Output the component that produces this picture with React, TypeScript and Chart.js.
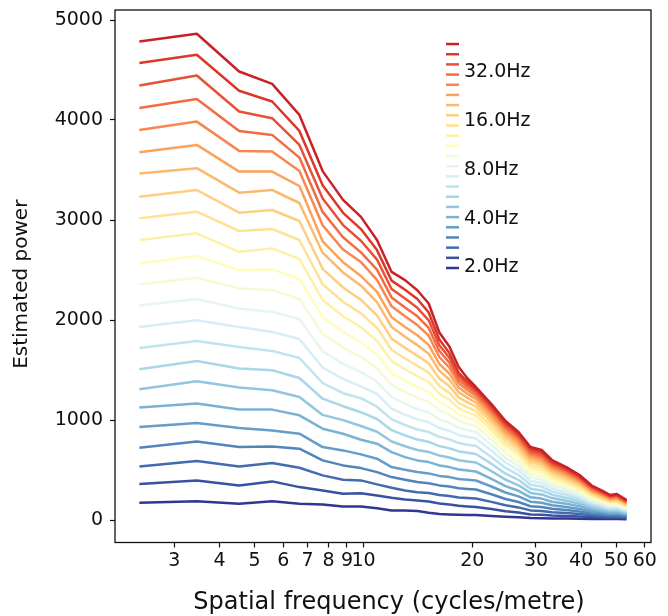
import React, { useEffect, useRef } from 'react';
import { Chart, registerables } from 'chart.js';

Chart.register(...registerables);

// Spatial frequency (cycles/metre) sample points
const spatialFreq = [2.40, 3.46, 4.53, 5.59, 6.65, 7.71, 8.78, 9.84, 10.90, 11.96, 13.03, 14.09, 15.15, 16.21, 17.28, 18.34, 19.40, 20.46, 22.59, 24.71, 26.84, 28.96, 31.09, 33.21, 36.40, 39.59, 42.78, 45.96, 48.09, 50.21, 53.40];

// Temporal frequency of each curve (Hz), lowest to highest
const temporalFreq = [2.00, 2.31, 2.67, 3.08, 3.56, 4.12, 4.76, 5.50, 6.35, 7.34, 8.48, 9.79, 11.31, 13.07, 15.10, 17.45, 20.16, 23.29, 26.91, 31.09, 35.92, 41.50, 47.95];

// Legend labels (Hz)
const legendLabelsHz = [2, 4, 8, 16, 32];

// Axis titles
const xTitle = 'Spatial frequency (cycles/metre)';
const yTitle = 'Estimated power';

// Estimated power per curve
const p00 = [172, 188, 162, 188, 162, 155, 135, 135, 118, 95, 95, 90, 72, 60, 55, 52, 51, 50, 41, 33, 27, 20, 18, 16, 15, 13, 11, 10, 9, 9, 8];
const p01 = [359, 396, 346, 386, 329, 295, 262, 268, 245, 222, 205, 195, 185, 166, 156, 142, 135, 130, 109, 88, 74, 56, 52, 45, 41, 35, 29, 25, 22, 23, 19];
const p02 = [536, 589, 536, 569, 523, 446, 403, 396, 356, 323, 295, 278, 269, 250, 240, 226, 220, 215, 181, 147, 126, 96, 90, 78, 70, 60, 47, 41, 36, 37, 30];
const p03 = [723, 786, 729, 736, 713, 596, 546, 519, 479, 429, 403, 379, 368, 346, 335, 318, 311, 305, 258, 210, 180, 138, 130, 112, 99, 85, 66, 56, 49, 51, 40];
const p04 = [929, 970, 919, 896, 863, 729, 696, 656, 613, 529, 503, 479, 466, 441, 429, 410, 402, 395, 335, 275, 236, 183, 172, 148, 131, 111, 85, 72, 62, 65, 50];
const p05 = [1124, 1164, 1104, 1104, 1047, 913, 863, 803, 763, 679, 629, 596, 579, 546, 529, 505, 494, 485, 412, 339, 292, 227, 214, 183, 162, 137, 105, 88, 75, 78, 60];
const p06 = [1307, 1387, 1324, 1297, 1230, 1051, 999, 940, 882, 785, 737, 700, 681, 644, 625, 597, 585, 575, 489, 403, 347, 271, 256, 219, 193, 163, 124, 103, 89, 92, 70];
const p07 = [1507, 1591, 1514, 1497, 1420, 1213, 1138, 1078, 1010, 898, 846, 804, 782, 739, 718, 686, 672, 660, 562, 463, 400, 313, 296, 253, 223, 188, 143, 119, 102, 106, 80];
const p08 = [1721, 1791, 1731, 1691, 1620, 1370, 1268, 1218, 1133, 1006, 950, 905, 880, 831, 806, 770, 753, 740, 630, 521, 450, 353, 334, 285, 251, 212, 161, 134, 114, 119, 90];
const p09 = [1931, 1998, 1931, 1881, 1810, 1524, 1411, 1336, 1260, 1114, 1053, 1006, 977, 920, 891, 849, 830, 815, 695, 575, 497, 391, 370, 316, 278, 235, 178, 149, 127, 132, 100];
const p10 = [2145, 2209, 2115, 2081, 2010, 1686, 1561, 1478, 1384, 1228, 1161, 1109, 1075, 1006, 972, 921, 898, 880, 751, 623, 540, 427, 404, 345, 304, 257, 195, 163, 139, 145, 110];
const p11 = [2356, 2422, 2316, 2299, 2210, 1862, 1724, 1632, 1517, 1352, 1281, 1223, 1181, 1096, 1053, 991, 963, 940, 804, 668, 580, 460, 436, 373, 328, 277, 211, 176, 151, 157, 119];
const p12 = [2566, 2639, 2499, 2506, 2410, 2030, 1880, 1779, 1654, 1466, 1393, 1328, 1278, 1178, 1128, 1055, 1022, 995, 852, 710, 618, 492, 467, 399, 352, 297, 226, 189, 162, 169, 128];
const p13 = [2800, 2867, 2682, 2716, 2610, 2200, 2037, 1928, 1793, 1589, 1507, 1439, 1380, 1262, 1203, 1116, 1077, 1045, 897, 749, 654, 523, 497, 425, 375, 317, 241, 202, 173, 180, 137];
const p14 = [3017, 3083, 2890, 2910, 2800, 2357, 2183, 2066, 1921, 1702, 1615, 1542, 1474, 1339, 1271, 1171, 1126, 1090, 937, 785, 687, 552, 525, 449, 396, 335, 255, 213, 183, 191, 145];
const p15 = [3233, 3300, 3073, 3100, 2990, 2511, 2325, 2201, 2046, 1814, 1721, 1643, 1567, 1414, 1338, 1226, 1176, 1135, 978, 820, 719, 580, 552, 472, 416, 352, 269, 225, 193, 201, 153];
const p16 = [3464, 3518, 3273, 3300, 3170, 2673, 2475, 2343, 2178, 1931, 1832, 1749, 1663, 1491, 1405, 1278, 1221, 1175, 1014, 852, 748, 606, 577, 494, 436, 369, 282, 236, 203, 211, 161];
const p17 = [3678, 3751, 3484, 3484, 3340, 2787, 2578, 2439, 2282, 2028, 1930, 1847, 1751, 1560, 1465, 1325, 1261, 1210, 1045, 881, 774, 629, 600, 514, 453, 384, 293, 246, 211, 220, 168];
const p18 = [3901, 3984, 3691, 3684, 3490, 2947, 2704, 2579, 2402, 2137, 2037, 1949, 1843, 1630, 1524, 1368, 1297, 1240, 1073, 906, 799, 652, 622, 533, 470, 398, 305, 255, 220, 229, 175];
const p19 = [4119, 4209, 3891, 3851, 3624, 3081, 2827, 2676, 2503, 2226, 2126, 2037, 1921, 1690, 1574, 1404, 1327, 1265, 1097, 929, 821, 673, 643, 551, 486, 412, 316, 265, 228, 237, 182];
const p20 = [4345, 4445, 4085, 4018, 3751, 3214, 2949, 2793, 2604, 2310, 2214, 2122, 1997, 1748, 1623, 1440, 1357, 1290, 1121, 951, 842, 693, 663, 568, 501, 425, 326, 273, 235, 245, 188];
const p21 = [4569, 4653, 4292, 4185, 3891, 3348, 3072, 2909, 2699, 2394, 2302, 2210, 2075, 1805, 1670, 1472, 1382, 1310, 1140, 971, 862, 712, 682, 584, 516, 438, 336, 282, 243, 253, 194];
const p22 = [4786, 4863, 4485, 4361, 4051, 3489, 3201, 3031, 2800, 2481, 2399, 2298, 2165, 1875, 1735, 1530, 1415, 1330, 1160, 990, 880, 730, 700, 600, 530, 450, 345, 290, 250, 260, 200];

const powerSeries = [p00, p01, p02, p03, p04, p05, p06, p07, p08, p09, p10, p11, p12, p13, p14, p15, p16, p17, p18, p19, p20, p21, p22];

const xTickValues = [3, 4, 5, 6, 7, 8, 9, 10, 20, 30, 40, 50, 60];
const yTickValues = [0, 1000, 2000, 3000, 4000, 5000];

// RdYlBu reversed (blue -> red)
const RDYLBU_R = ['#313695', '#4575b4', '#74add1', '#abd9e9', '#e0f3f8', '#ffffbf', '#fee090', '#fdae61', '#f46d43', '#d73027', '#a50026'];

function hexToRgb(h: string) {
  return [parseInt(h.slice(1, 3), 16), parseInt(h.slice(3, 5), 16), parseInt(h.slice(5, 7), 16)];
}
function cmap(t: number) {
  const s = Math.max(0, Math.min(1, t)) * 10;
  const k = Math.min(9, Math.floor(s));
  const f = s - k;
  const a = hexToRgb(RDYLBU_R[k]);
  const b = hexToRgb(RDYLBU_R[k + 1]);
  const c = a.map((v, i) => Math.round(v + (b[i] - v) * f));
  return `rgb(${c[0]},${c[1]},${c[2]})`;
}

const FONT = "'DejaVu Sans', 'Liberation Sans', sans-serif";

export default function App() {
  const ref = useRef<HTMLCanvasElement | null>(null);

  useEffect(() => {
    if (!ref.current) return;
    const n = powerSeries.length;
    const colors = powerSeries.map((_, i) => cmap((i / (n - 1)) * 0.93));

    const datasets = powerSeries
      .map((vals, i) => ({
        label: `${temporalFreq[i].toFixed(1)}Hz`,
        data: spatialFreq.map((x, j) => ({ x, y: vals[j] })),
        borderColor: colors[i],
        backgroundColor: colors[i],
        borderWidth: 2.5,
        pointRadius: 0,
        tension: 0,
        fill: false,
        borderJoinStyle: 'round' as const,
      }))
      .reverse();

    const framePlugin = {
      id: 'frameAndLegend',
      afterDraw(chart: any) {
        const { ctx, chartArea: a } = chart;
        ctx.save();
        ctx.strokeStyle = '#111';
        ctx.lineWidth = 1.3;
        ctx.strokeRect(a.left, a.top, a.right - a.left, a.bottom - a.top);

        // axis titles
        ctx.fillStyle = '#111';
        ctx.textAlign = 'center';
        ctx.textBaseline = 'middle';
        ctx.font = `24px ${FONT}`;
        ctx.fillText(xTitle, (a.left + a.right) / 2 + 6, 603);
        ctx.save();
        ctx.translate(22, (a.top + a.bottom) / 2 + 8);
        ctx.rotate(-Math.PI / 2);
        ctx.font = `20px ${FONT}`;
        ctx.fillText(yTitle, 0, 0);
        ctx.restore();

        // legend
        const lx0 = a.left + 331;
        const lx1 = a.left + 344;
        const yBottom = a.top + 258;
        const step = 10.18;
        ctx.lineWidth = 2.5;
        for (let i = 0; i < n; i++) {
          const y = yBottom - i * step;
          ctx.strokeStyle = colors[i];
          ctx.beginPath();
          ctx.moveTo(lx0, y);
          ctx.lineTo(lx1, y);
          ctx.stroke();
        }
        ctx.fillStyle = '#111';
        ctx.font = `19px ${FONT}`;
        ctx.textBaseline = 'middle';
        ctx.textAlign = 'left';
        legendLabelsHz.forEach((hz) => {
          let pos = 0;
          for (let i = 0; i < n - 1; i++) {
            if (hz >= temporalFreq[i] && hz <= temporalFreq[i + 1]) {
              pos = i + Math.log(hz / temporalFreq[i]) / Math.log(temporalFreq[i + 1] / temporalFreq[i]);
              break;
            }
          }
          const y = yBottom - pos * step;
          ctx.fillText(`${hz.toFixed(1)}Hz`, lx1 + 5, y - 0.5);
        });
        ctx.restore();
      },
    };

    const chart = new Chart(ref.current, {
      type: 'line',
      data: { datasets },
      options: {
        animation: false,
        responsive: false,
        maintainAspectRatio: false,
        layout: { padding: { top: 10, right: 17, left: 0, bottom: 0 } },
        plugins: { legend: { display: false }, tooltip: { enabled: false } },
        scales: {
          x: {
            type: 'logarithmic',
            min: 2.055,
            max: 62.4,
            afterFit: (s: any) => { s.height = 73.5; s.paddingLeft = 0; s.paddingRight = 0; },
            afterBuildTicks: (s: any) => { s.ticks = xTickValues.map((v) => ({ value: v })); },
            grid: { drawOnChartArea: false, drawTicks: true, tickLength: 5, tickWidth: 1.2, tickColor: '#111' },
            border: { display: false },
            ticks: {
              autoSkip: false,
              maxRotation: 0,
              minRotation: 0,
              padding: 2,
              color: '#111',
              font: { family: FONT, size: 19, lineHeight: 1.2 },
              callback: (v: any) => String(v),
            },
            title: { display: false },
          },
          y: {
            type: 'linear',
            min: -225,
            max: 5100,
            afterFit: (s: any) => { s.width = 115; s.paddingTop = 0; s.paddingBottom = 0; },
            afterBuildTicks: (s: any) => { s.ticks = yTickValues.map((v) => ({ value: v })); },
            grid: { drawOnChartArea: false, drawTicks: true, tickLength: 5, tickWidth: 1.2, tickColor: '#111' },
            border: { display: false },
            ticks: {
              padding: 7,
              color: '#111',
              font: { family: FONT, size: 19, lineHeight: 1.2 },
              callback: (v: any) => String(v),
            },
            title: { display: false },
          },
        },
      },
      plugins: [framePlugin],
    });
    return () => chart.destroy();
  }, []);

  return (
    <div style={{ position: 'fixed', left: 0, top: 0, width: 668, height: 616, background: '#fff' }}>
      <canvas ref={ref} width={668} height={616} style={{ display: 'block' }} />
    </div>
  );
}
